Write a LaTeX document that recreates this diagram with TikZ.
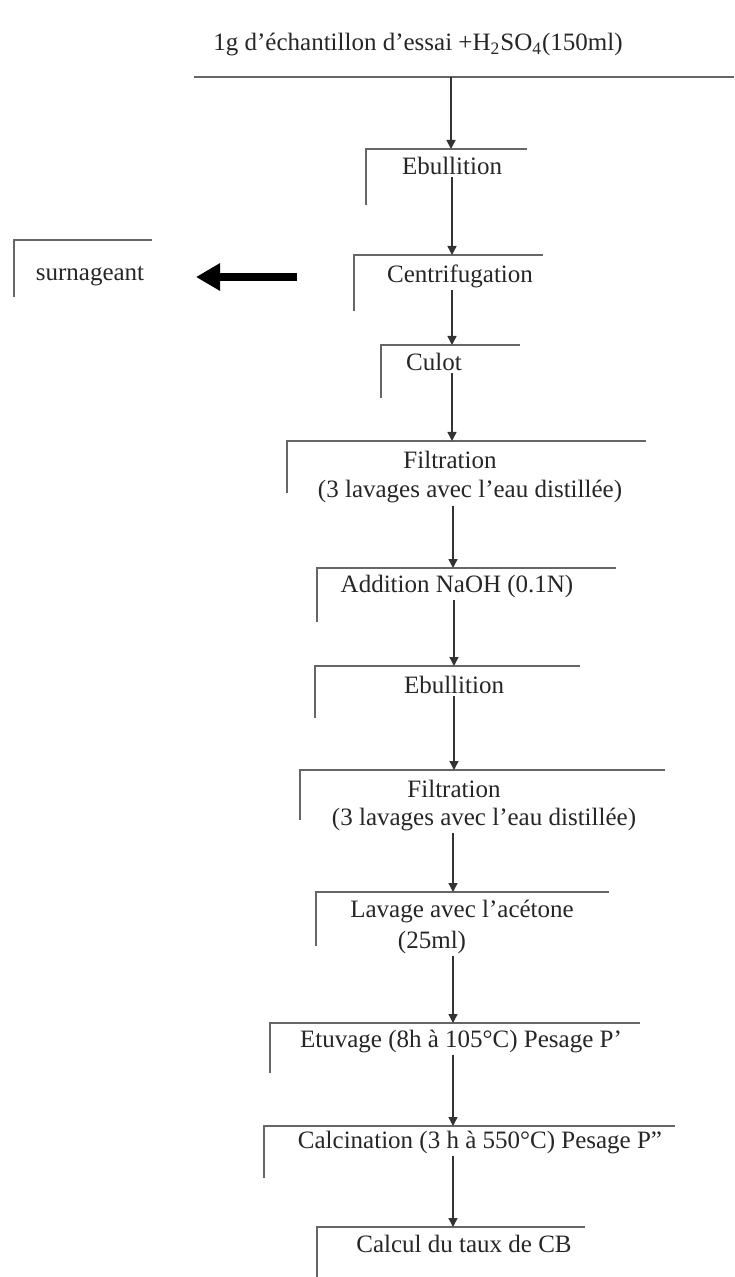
\documentclass[tikz,border=0pt]{standalone}
\usepackage{fontspec}
\setmainfont{Liberation Serif}
\usetikzlibrary{arrows.meta}
\begin{document}
\begin{tikzpicture}[x=0.5pt,y=-0.5pt,
  boxline/.style={draw=black!60, line width=1.3pt},
  lbl/.style={font=\fontsize{12.5}{15}\selectfont, text=black!85, inner sep=1pt},
  flow/.style={draw=black!80, line width=0.7pt, -{Triangle[length=4.5pt,width=4.5pt]}},
  bigarrow/.style={draw=black, line width=4pt, -{Triangle[length=12pt,width=13pt]}}]
\useasboundingbox (0,0) rectangle (734,1277);
\fill[white] (0,0) rectangle (734,1277);

% top
\node[lbl] (n0) at (418,45) {1g d'échantillon d'essai +H\textsubscript{2}SO\textsubscript{4}(150ml)};
\draw[boxline] (194,77) -- (734,77);
\coordinate (c0) at (451,77);

% Ebullition
\draw[boxline] (366,205) |- (527,149);
\coordinate (c1) at (451,149);
\node[lbl] (n1) at (452,166) {Ebullition};

% Centrifugation
\draw[boxline] (354,311) |- (543,255);
\coordinate (c2) at (452,255);
\node[lbl] (n2) at (460,276) {Centrifugation};

% surnageant
\draw[boxline] (14,297) |- (152,240);
\node[lbl] (ns) at (90,276) {surnageant};
\coordinate (sa) at (297,277);
\coordinate (sb) at (196,277);
\draw[bigarrow] (sa) -- (sb);

% Culot
\draw[boxline] (381,398) |- (520,345);
\coordinate (c3) at (452,345);
\node[lbl] (n3) at (434,362) {Culot};

% Filtration
\draw[boxline] (287,493) |- (646,441);
\coordinate (c4) at (452,441);
\node[lbl] (n4) at (450,460) {Filtration};
\node[lbl] (n4b) at (470,492) {(3 lavages avec l'eau distillée)};

% Addition NaOH
\draw[boxline] (317,622) |- (616,568);
\coordinate (c5) at (453,568);
\node[lbl] (n5) at (457,586) {Addition NaOH (0.1N)};

% Ebullition 2
\draw[boxline] (315,718) |- (580,666);
\coordinate (c6) at (454,666);
\node[lbl] (n6) at (454,685) {Ebullition};

% Filtration 2
\draw[boxline] (300,820) |- (665,770);
\coordinate (c7) at (454,770);
\node[lbl] (n7) at (454,789) {Filtration};
\node[lbl] (n7b) at (484,819) {(3 lavages avec l'eau distillée)};

% Lavage
\draw[boxline] (316,946) |- (609,892);
\coordinate (c8) at (453,892);
\node[lbl] (n8) at (462,911) {Lavage avec l'acétone};
\node[lbl] (n8b) at (432,942) {(25ml)};

% Etuvage
\draw[boxline] (270,1073) |- (640,1023);
\coordinate (c9) at (453,1023);
\node[lbl] (n9) at (461,1041) {Etuvage (8h à 105°C) Pesage P'};

% Calcination
\draw[boxline] (264,1178) |- (675,1126);
\coordinate (c10) at (453,1126);
\node[lbl] (n10) at (480,1142) {Calcination (3 h à 550°C) Pesage P''};

% Calcul
\draw[boxline] (317,1277) |- (585,1227);
\coordinate (c11) at (453,1227);
\node[lbl] (n11) at (464,1244) {Calcul du taux de CB};

% flow arrows
\draw[flow] (c0) -- (c1);
\draw[flow] (n1.south -| c2) -- (c2);
\draw[flow] (n2.south -| c3) -- (c3);
\draw[flow] (n3.south -| c4) -- (c4);
\draw[flow] (n4b.south -| c5) -- (c5);
\draw[flow] (n5.south -| c6) -- (c6);
\draw[flow] (n6.south -| c7) -- (c7);
\draw[flow] (n7b.south -| c8) -- (c8);
\draw[flow] (n8b.south -| c9) -- (c9);
\draw[flow] (n9.south -| c10) -- (c10);
\draw[flow] (n10.south -| c11) -- (c11);
\end{tikzpicture}
\end{document}
